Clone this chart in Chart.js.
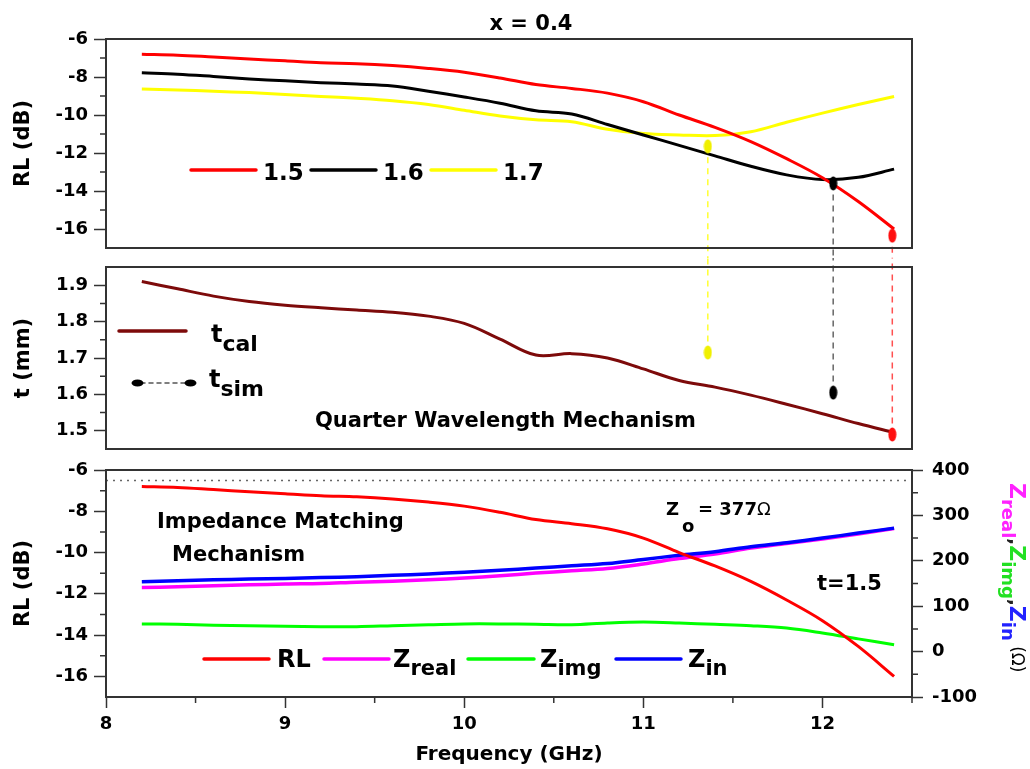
<!DOCTYPE html>
<html>
<head>
<meta charset="utf-8">
<script src="https://cdn.jsdelivr.net/npm/chart.js@4.4.0/dist/chart.umd.min.js"></script>
<style>
  html, body { margin: 0; padding: 0; background: #fff; }
  #wrap { position: relative; width: 1030px; height: 769px; }
  #wrap canvas { position: absolute; left: 0; }
</style>
</head>
<body>
<div id="wrap">
  <canvas id="rlChart" width="1030" height="258" style="top:0"></canvas>
  <canvas id="tChart" width="1030" height="202" style="top:258px"></canvas>
  <canvas id="zChart" width="1030" height="309" style="top:460px"></canvas>
</div>
<script>
// frequency grid (GHz)
const freq = [8.2, 8.4, 8.6, 8.8, 9.0, 9.2, 9.4, 9.6, 9.8, 10.0, 10.2,
  10.4, 10.6, 10.8, 11.0, 11.2, 11.4, 11.6, 11.8, 12.0, 12.2, 12.4];

// reflection loss (dB) for thickness 1.5 / 1.6 / 1.7 mm
const rl15 = [-6.8, -6.85, -6.95, -7.05, -7.15, -7.25, -7.3, -7.4, -7.55, -7.75, -8.05,
  -8.4, -8.6, -8.85, -9.3, -10.0, -10.65, -11.4, -12.3, -13.3, -14.55, -16.0];
const rl16 = [-7.78, -7.85, -7.97, -8.1, -8.2, -8.3, -8.37, -8.47, -8.75, -9.05, -9.38,
  -9.78, -9.95, -10.5, -11.05, -11.6, -12.15, -12.7, -13.15, -13.4, -13.28, -12.85];
const rl17 = [-8.63, -8.68, -8.75, -8.82, -8.92, -9.02, -9.12, -9.25, -9.45, -9.75, -10.05,
  -10.25, -10.35, -10.75, -10.98, -11.05, -11.08, -10.88, -10.38, -9.9, -9.45, -9.03];

// calculated quarter-wavelength thickness (mm)
const tCal = [1.91, 1.89, 1.87, 1.855, 1.845, 1.838, 1.832, 1.826, 1.815, 1.795, 1.752,
  1.708, 1.712, 1.70, 1.67, 1.638, 1.62, 1.598, 1.573, 1.547, 1.52, 1.495];

// simulated matching points
const simFreq = [11.36, 12.06, 12.39];
const simRL = [-11.65, -13.6, -16.35];
const simT = [1.715, 1.605, 1.49];
const simColors = ['#f0f000', '#000000', '#ff1010'];
const dropColors = ['#ffff30', '#666666', '#ff5050'];

// impedance (ohm) at t = 1.5 mm
const zReal = [141, 143, 145, 147, 149, 150, 153, 155, 158, 162, 167,
  173, 178, 183, 193, 205, 215, 228, 238, 248, 259, 271];
const zImg = [61, 60, 58, 57, 56, 55, 55, 57, 59, 61, 61,
  60, 59, 63, 65, 63, 60, 57, 52, 41, 28, 15];
const zIn = [154, 156, 158, 160, 161, 163, 165, 168, 171, 175, 179,
  184, 189, 194, 203, 212, 220, 231, 240, 250, 261, 272];
const z0 = 377;

// axis ticks
const fTicks = [8, 9, 10, 11, 12];
const fMinor = [8.5, 9.5, 10.5, 11.5, 12.5];
const rlTicks = [-16, -14, -12, -10, -8, -6];
const rlMinor = [-15, -13, -11, -9, -7];
const tTicks = [1.5, 1.6, 1.7, 1.8, 1.9];
const tMinor = [1.55, 1.65, 1.75, 1.85];
const zTicks = [-100, 0, 100, 200, 300, 400];
const zMinor = [-50, 50, 150, 250, 350];

const FONT = '"DejaVu Sans", "Liberation Sans", sans-serif';
const AXIS = '#333';

Chart.defaults.font.family = FONT;
Chart.defaults.font.weight = 'bold';
Chart.defaults.color = '#000';
Chart.defaults.animation = false;

const pts = (xs, ys) => xs.map((x, i) => ({ x, y: ys[i] }));

function curve(label, ys, color, width, yAxisID) {
  return {
    label, data: pts(freq, ys), borderColor: color, borderWidth: width || 3,
    pointRadius: 0, tension: 0.35, fill: false, yAxisID: yAxisID || 'y'
  };
}

function ellipse(color, w, h) {
  const c = document.createElement('canvas');
  c.width = w; c.height = h;
  const g = c.getContext('2d');
  g.fillStyle = color;
  g.beginPath();
  g.ellipse(w / 2, h / 2, w / 2 - 0.5, h / 2 - 0.5, 0, 0, Math.PI * 2);
  g.fill();
  return c;
}

function dots(ys) {
  return {
    label: 'sim', data: pts(simFreq, ys), showLine: false, pointRadius: 6,
    pointStyle: simColors.map(c => ellipse(c, 9, 15)), yAxisID: 'y'
  };
}

const fixedTicks = values => scale => { scale.ticks = values.map(value => ({ value })); };

// keep the plot box where the layout padding puts it
function fixSize(key, size) {
  return s => {
    s[key] = size;
    s.paddingTop = s.paddingBottom = s.paddingLeft = s.paddingRight = 0;
  };
}

function leftAxis(min, max, major, title) {
  return {
    type: 'linear', position: 'left', min, max,
    afterBuildTicks: fixedTicks(major),
    afterFit: fixSize('width', 106),
    ticks: { padding: 6, font: { size: 18 }, callback: v => String(v) },
    grid: { drawOnChartArea: false, tickLength: 12, tickColor: AXIS, tickWidth: 1.5 },
    border: { display: false },
    title: { display: true, text: title, font: { size: 21 }, padding: { top: 11, bottom: 0 } }
  };
}

const hiddenX = { type: 'linear', min: 8, max: 12.5, display: false };

// box around the plot area plus the short minor ticks
function frame(minor) {
  return {
    id: 'frame',
    afterDraw(chart) {
      const { ctx, chartArea: a } = chart;
      ctx.save();
      ctx.strokeStyle = AXIS;
      ctx.lineWidth = 2;
      ctx.strokeRect(a.left, a.top, a.right - a.left, a.bottom - a.top);
      ctx.lineWidth = 1.5;
      ctx.beginPath();
      Object.entries(minor).forEach(([id, values]) => {
        const s = chart.scales[id];
        values.forEach(v => {
          const p = s.getPixelForValue(v);
          if (s.position === 'left') { ctx.moveTo(a.left - 6, p); ctx.lineTo(a.left, p); }
          else if (s.position === 'right') { ctx.moveTo(a.right, p); ctx.lineTo(a.right + 6, p); }
          else { ctx.moveTo(p, a.bottom); ctx.lineTo(p, a.bottom + 6); }
        });
      });
      ctx.stroke();
      ctx.restore();
    }
  };
}

// dashed drops linking the RL minima with the simulated thickness
function drops(values, toBottom) {
  return {
    id: 'drops',
    beforeDatasetsDraw(chart) {
      const { ctx } = chart;
      const sx = chart.scales.x, sy = chart.scales.y;
      ctx.save();
      ctx.setLineDash([6, 5]);
      ctx.lineWidth = 1.5;
      simFreq.forEach((f, i) => {
        const px = sx.getPixelForValue(f), py = sy.getPixelForValue(values[i]);
        ctx.strokeStyle = dropColors[i];
        ctx.beginPath();
        ctx.moveTo(px, py);
        ctx.lineTo(px, toBottom ? chart.height : 0);
        ctx.stroke();
      });
      ctx.restore();
    }
  };
}

function rich(ctx, x, y, parts) {
  parts.forEach(p => {
    ctx.font = `${p.weight || 'bold'} ${p.size}px ${FONT}`;
    ctx.fillStyle = p.color || '#000';
    ctx.fillText(p.text, x, y + (p.dy || 0));
    x += ctx.measureText(p.text).width;
  });
  return x;
}

function seg(ctx, x1, x2, y, color, width, dash) {
  ctx.save();
  ctx.strokeStyle = color;
  ctx.lineWidth = width || 3;
  ctx.lineCap = 'round';
  if (dash) ctx.setLineDash(dash);
  ctx.beginPath();
  ctx.moveTo(x1, y);
  ctx.lineTo(x2, y);
  ctx.stroke();
  ctx.restore();
}

const baseOptions = {
  responsive: false,
  events: [],
  plugins: { legend: { display: false }, tooltip: { enabled: false } }
};

// ---- top: RL for three thicknesses ----
new Chart(document.getElementById('rlChart'), {
  type: 'line',
  data: {
    datasets: [
      dots(simRL),
      curve('1.5', rl15, '#ff0000'),
      curve('1.6', rl16, '#000000'),
      curve('1.7', rl17, '#ffff00')
    ]
  },
  options: {
    ...baseOptions,
    layout: { padding: { left: 0, right: 118, top: 39, bottom: 10 } },
    scales: { x: hiddenX, y: leftAxis(-17, -6, rlTicks, 'RL (dB)') }
  },
  plugins: [frame({ y: rlMinor }), drops(simRL, true), {
    id: 'labels',
    afterDraw(chart) {
      const ctx = chart.ctx;
      ctx.save();
      ctx.font = `bold 21px ${FONT}`;
      ctx.textAlign = 'center';
      ctx.fillStyle = '#000';
      ctx.fillText('x = 0.4', 531, 30);
      ctx.textAlign = 'left';
      seg(ctx, 191, 256, 170, '#ff0000', 3.5);
      rich(ctx, 263, 180, [{ text: '1.5', size: 23 }]);
      seg(ctx, 311, 376, 170, '#000000', 3.5);
      rich(ctx, 383, 180, [{ text: '1.6', size: 23 }]);
      seg(ctx, 431, 496, 170, '#ffff00', 3.5);
      rich(ctx, 503, 180, [{ text: '1.7', size: 23 }]);
      ctx.restore();
    }
  }]
});

// ---- middle: thickness ----
new Chart(document.getElementById('tChart'), {
  type: 'line',
  data: {
    datasets: [
      dots(simT),
      curve('tcal', tCal, '#7d0a0a', 3)
    ]
  },
  options: {
    ...baseOptions,
    layout: { padding: { left: 0, right: 118, top: 9, bottom: 11 } },
    scales: { x: hiddenX, y: leftAxis(1.45, 1.95, tTicks, 't (mm)') }
  },
  plugins: [frame({ y: tMinor }), drops(simT, false), {
    id: 'labels',
    afterDraw(chart) {
      const ctx = chart.ctx;
      ctx.save();
      seg(ctx, 119, 186, 73, '#7d0a0a', 3.5);
      rich(ctx, 211, 84, [{ text: 't', size: 24 }, { text: 'cal', size: 22, dy: 9 }]);
      seg(ctx, 141, 186, 125, '#555', 1.5, [4, 4]);
      ctx.drawImage(ellipse('#000', 13, 8), 131, 121);
      ctx.drawImage(ellipse('#000', 13, 8), 184, 121);
      rich(ctx, 209, 129, [{ text: 't', size: 24 }, { text: 'sim', size: 22, dy: 9 }]);
      rich(ctx, 315, 169, [{ text: 'Quarter Wavelength Mechanism', size: 21 }]);
      ctx.restore();
    }
  }]
});

// ---- bottom: RL and impedance at t = 1.5 ----
const zAxis = {
  type: 'linear', position: 'right', min: -100, max: 400,
  afterBuildTicks: fixedTicks(zTicks),
  afterFit: fixSize('width', 118),
  ticks: { padding: 9, font: { size: 18 }, callback: v => String(v) },
  grid: { drawOnChartArea: false, tickLength: 11, tickColor: AXIS, tickWidth: 1.5 },
  border: { display: false }
};

new Chart(document.getElementById('zChart'), {
  type: 'line',
  data: {
    datasets: [
      curve('RL', rl15, '#ff0000'),
      curve('Zin', zIn, '#0000ff', 3.5, 'yr'),
      curve('Zreal', zReal, '#ff00ff', 3.5, 'yr'),
      curve('Zimg', zImg, '#00ff00', 3, 'yr'),
      {
        label: 'Z0', data: [{ x: 8, y: z0 }, { x: 12.5, y: z0 }], yAxisID: 'yr',
        borderColor: '#666', borderWidth: 1.5, borderDash: [2, 5], pointRadius: 0
      }
    ]
  },
  options: {
    ...baseOptions,
    layout: { padding: { left: 0, right: 0, top: 10, bottom: 0 } },
    scales: {
      x: {
        type: 'linear', position: 'bottom', min: 8, max: 12.5,
        afterBuildTicks: fixedTicks(fTicks),
        afterFit: fixSize('height', 72),
        ticks: { padding: 6, font: { size: 18 }, maxRotation: 0, autoSkip: false, callback: v => String(v) },
        grid: { drawOnChartArea: false, tickLength: 11, tickColor: AXIS, tickWidth: 1.5 },
        border: { display: false },
        title: { display: true, text: 'Frequency (GHz)', font: { size: 20 }, padding: { top: 0, bottom: 2 } }
      },
      y: leftAxis(-17, -6, rlTicks, 'RL (dB)'),
      yr: zAxis
    }
  },
  plugins: [frame({ y: rlMinor, yr: zMinor, x: fMinor }), {
    id: 'labels',
    afterDraw(chart) {
      const ctx = chart.ctx;
      ctx.save();
      rich(ctx, 157, 68, [{ text: 'Impedance Matching', size: 21 }]);
      rich(ctx, 172, 101, [{ text: 'Mechanism', size: 21 }]);
      rich(ctx, 666, 55, [{ text: 'Z', size: 18 }]);
      rich(ctx, 682, 72, [{ text: 'o', size: 18 }]);
      rich(ctx, 698, 55, [{ text: '= 377', size: 18 }, { text: 'Ω', size: 18, weight: 'normal' }]);
      rich(ctx, 817, 130, [{ text: 't=1.5', size: 21 }]);

      seg(ctx, 204, 269, 199, '#ff0000', 3.5);
      rich(ctx, 277, 207, [{ text: 'RL', size: 24 }]);
      seg(ctx, 324, 389, 199, '#ff00ff', 3.5);
      rich(ctx, 393, 207, [{ text: 'Z', size: 24 }, { text: 'real', size: 21, dy: 8 }]);
      seg(ctx, 468, 534, 199, '#00ff00', 3.5);
      rich(ctx, 540, 207, [{ text: 'Z', size: 24 }, { text: 'img', size: 21, dy: 8 }]);
      seg(ctx, 616, 681, 199, '#0000ff', 3.5);
      rich(ctx, 688, 207, [{ text: 'Z', size: 24 }, { text: 'in', size: 21, dy: 8 }]);

      // right axis title, written top to bottom
      ctx.translate(1010, 23);
      ctx.rotate(Math.PI / 2);
      rich(ctx, 0, 0, [
        { text: 'Z', size: 22, color: '#ff22ff' },
        { text: 'real', size: 18, dy: 8, color: '#ff22ff' },
        { text: ',', size: 18, color: '#222' },
        { text: 'Z', size: 22, color: '#22e022' },
        { text: 'img', size: 18, dy: 8, color: '#22e022' },
        { text: ',', size: 18, color: '#222' },
        { text: 'Z', size: 22, color: '#2222ff' },
        { text: 'in', size: 18, dy: 8, color: '#2222ff' },
        { text: ' (Ω)', size: 17, weight: 'normal', dy: -2, color: '#000' }
      ]);
      ctx.restore();
    }
  }]
});
</script>
</body>
</html>
